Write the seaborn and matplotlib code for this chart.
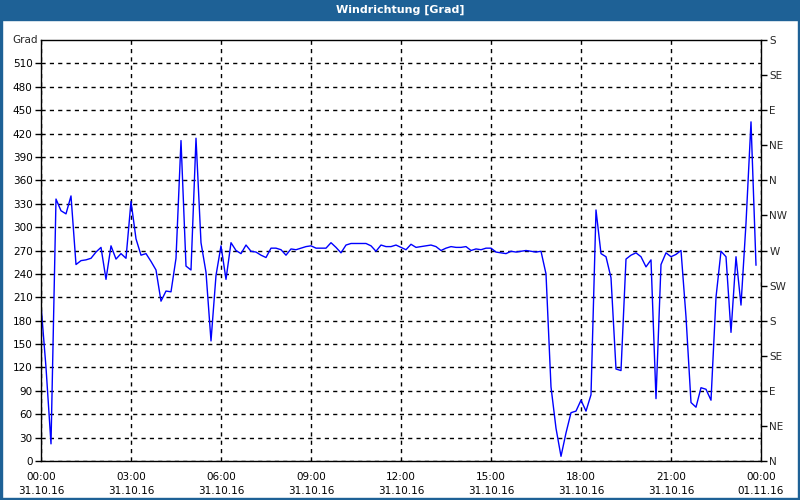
import numpy as np
import pandas as pd
import seaborn as sns
import matplotlib.pyplot as plt
from matplotlib.patches import Rectangle

# Wind direction, sampled every 10 minutes from 31.10.16 00:00
minutes = np.arange(0, 1440, 10)
direction = [
    200, 120, 22, 336, 321, 317, 340, 252, 257, 258, 260, 268,
    274, 233, 276, 259, 266, 260, 333, 285, 264, 266, 256, 245,
    205, 218, 217, 260, 411, 250, 245, 414, 280, 242, 154, 238,
    276, 233, 280, 270, 266, 277, 269, 268, 264, 261, 273, 273,
    271, 264, 272, 271, 273, 275, 276, 273, 273, 273, 280, 274,
    267, 277, 279, 279, 279, 279, 276, 269, 277, 275, 275, 277,
    274, 271, 278, 274, 275, 276, 277, 275, 270, 273, 275, 274,
    274, 275, 270, 272, 271, 273, 273, 268, 267, 266, 269, 268,
    269, 270, 269, 268, 269, 240, 95, 42, 6, 36, 62, 64,
    78, 64, 85, 322, 266, 262, 235, 118, 116, 259, 264, 267,
    262, 249, 258, 80, 252, 267, 262, 265, 270, 185, 75, 69,
    94, 92, 78, 210, 269, 262, 165, 262, 200, 305, 435, 251,
]

y_ticks = list(range(0, 540, 30))
compass_ticks = list(range(0, 541, 45))
compass_labels = ["N", "NE", "E", "SE", "S", "SW", "W", "NW", "N", "NE", "E", "SE", "S"]
x_ticks = list(range(0, 25, 3))
x_labels = ["00:00\n31.10.16", "03:00\n31.10.16", "06:00\n31.10.16", "09:00\n31.10.16",
            "12:00\n31.10.16", "15:00\n31.10.16", "18:00\n31.10.16", "21:00\n31.10.16",
            "00:00\n01.11.16"]

df = pd.DataFrame({"hour": minutes / 60, "grad": direction})

sns.set_style("white")
plt.rcParams['font.family'] = ['DejaVu Sans']
plt.rcParams['font.size'] = 7.5

fig = plt.figure(figsize=(8, 5), dpi=100)
fig.patch.set_facecolor("white")

# window frame and title bar
blue = "#1E6196"
fig.patches.append(Rectangle((0, 0.96), 1, 0.04, transform=fig.transFigure, color=blue, zorder=0))
fig.patches.append(Rectangle((0, 0), 0.0025, 1, transform=fig.transFigure, color=blue, zorder=0))
fig.patches.append(Rectangle((0.9975, 0), 0.0025, 1, transform=fig.transFigure, color=blue, zorder=0))
fig.patches.append(Rectangle((0, 0), 1, 0.004, transform=fig.transFigure, color=blue, zorder=0))
fig.text(0.5, 0.98, "Windrichtung [Grad]", color="white", fontweight="bold",
         ha="center", va="center", fontsize=8)

ax = fig.add_axes([0.05125, 0.078, 0.9, 0.842])
sns.lineplot(data=df, x="hour", y="grad", ax=ax, color="#0000FF", linewidth=1)

ax.set_xlim(0, 24)
ax.set_ylim(0, 540)
ax.set_xlabel("")
ax.set_ylabel("")
ax.set_yticks(y_ticks)
ax.set_xticks(x_ticks)
ax.set_xticklabels(x_labels, linespacing=1.45)
ax.set_xticks(range(0, 25), minor=True)
ax.tick_params(axis="both", which="major", direction="out", length=4, width=1, color="black",
               labelcolor="black", pad=2)
ax.tick_params(axis="x", which="major", pad=4)
ax.tick_params(axis="x", which="minor", direction="out", length=3, width=1, color="black")
ax.grid(True, axis="y", linestyle=(0, (3, 3)), color="black", linewidth=1)
ax.grid(True, axis="x", which="major", linestyle=(0, (3, 3)), color="black", linewidth=1)
for s in ax.spines.values():
    s.set_color("black")
    s.set_linewidth(1)
ax.text(-0.004, 540, "Grad", transform=ax.get_yaxis_transform(), ha="right", va="center")

ax2 = ax.twinx()
ax2.set_ylim(0, 540)
ax2.set_yticks(compass_ticks)
ax2.set_yticklabels(compass_labels)
ax2.tick_params(axis="y", direction="out", length=4, width=1, color="black", pad=2)
ax2.grid(False)
for s in ax2.spines.values():
    s.set_visible(False)

plt.savefig("out.png", dpi=100)
